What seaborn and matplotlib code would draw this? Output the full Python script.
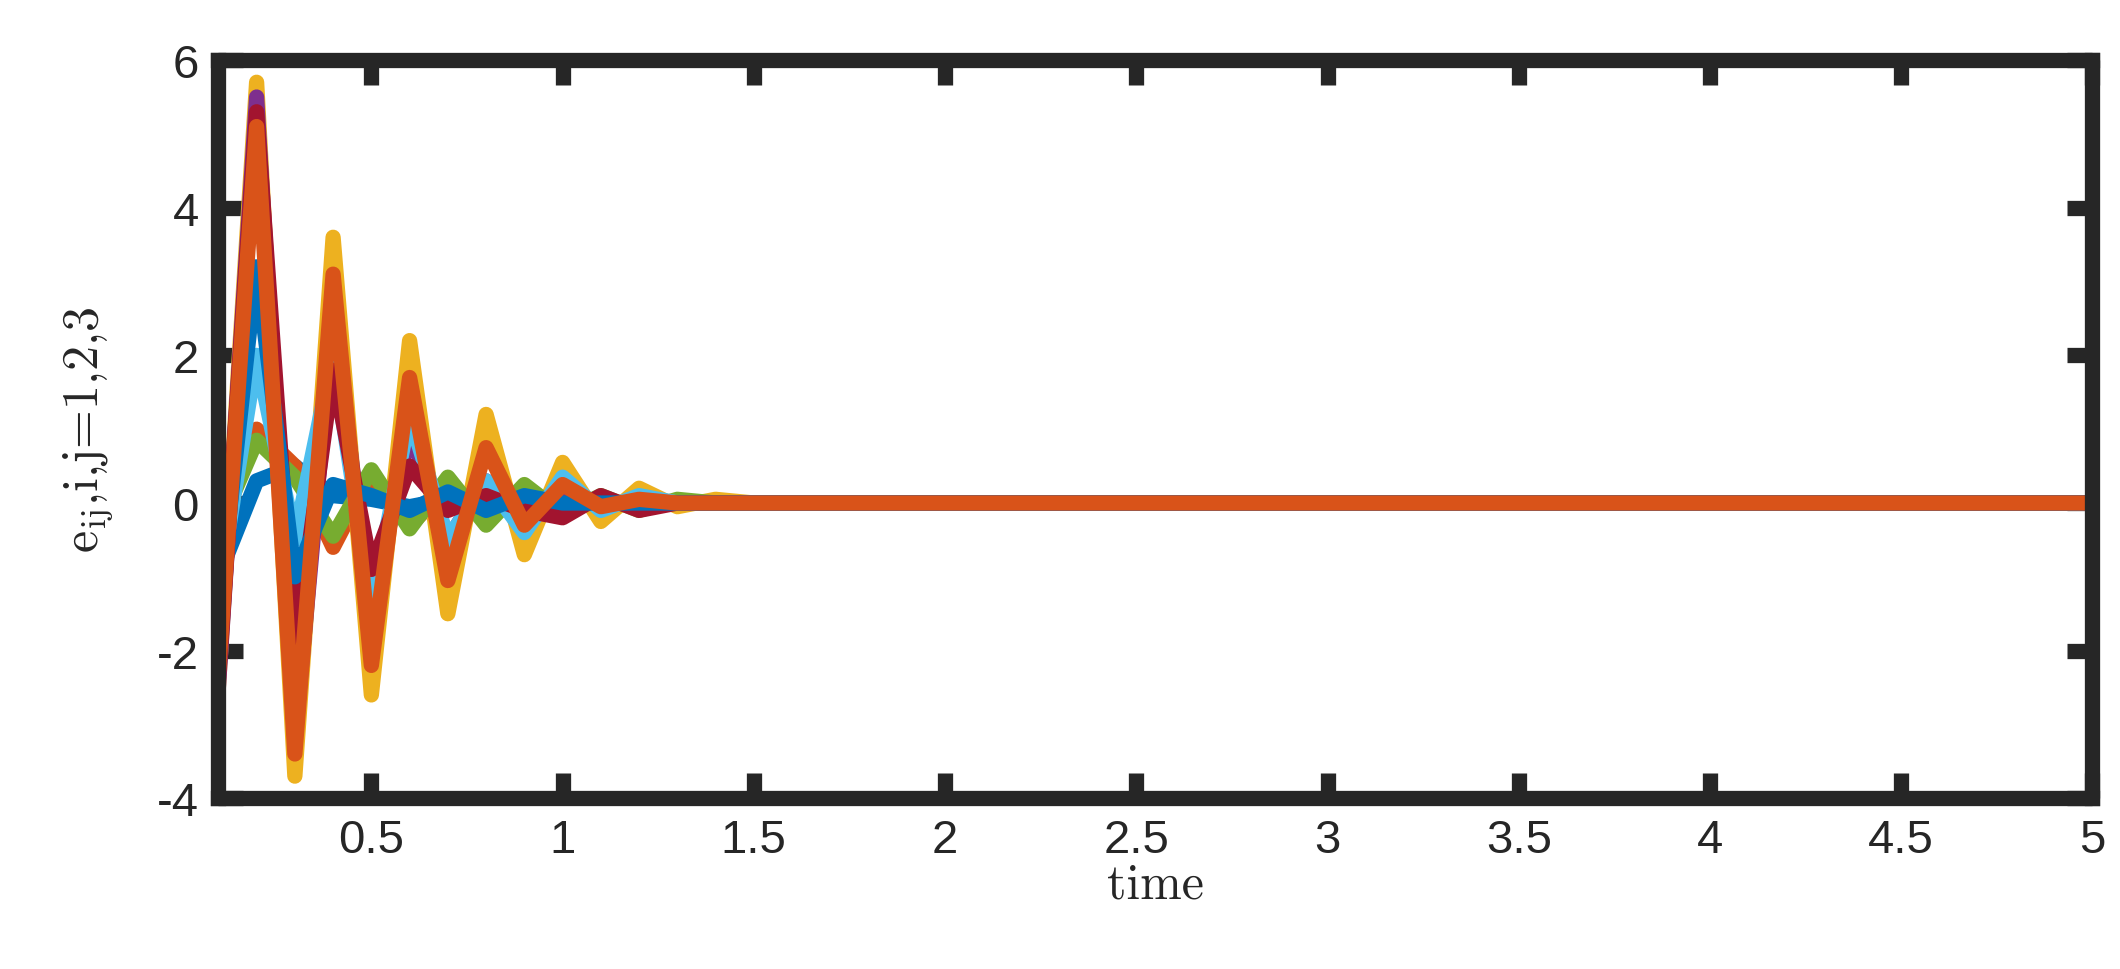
import numpy as np
import pandas as pd
import matplotlib
matplotlib.use("Agg")
import matplotlib.pyplot as plt
import seaborn as sb

# time grid of the simulation
t = np.round(np.arange(0.1, 5.0001, 0.1), 1)

# early values (t = 0.1 ... 1.5), afterwards the errors are ~0
e11 = [-1.0, 0.3, 0.5, 0.1, 0.05, -0.05, 0.05, 0.0, 0.0, 0.0, 0.0, 0.0, 0.0, 0.0, 0.0]
e12 = [-0.4, 1.0, 0.5, -0.6, 0.4, -0.3, 0.2, -0.1, 0.1, 0.0, 0.0, 0.0, 0.0, 0.0, 0.0]
e13 = [-2.5, 5.7, -3.7, 3.6, -2.6, 2.2, -1.5, 1.2, -0.7, 0.55, -0.25, 0.2, -0.05, 0.05, 0.0]
e21 = [-2.5, 5.5, -3.2, 2.5, -1.5, 1.0, -0.5, 0.3, -0.1, 0.05, 0.0, 0.0, 0.0, 0.0, 0.0]
e22 = [-0.35, 0.85, 0.35, -0.45, 0.45, -0.35, 0.35, -0.3, 0.25, -0.15, 0.1, -0.1, 0.05, 0.0, 0.0]
e23 = [-1.2, 2.0, -0.5, 2.0, -1.4, 1.2, -0.5, 0.3, -0.4, 0.35, -0.1, 0.1, 0.0, 0.0, 0.0]
e31 = [-2.4, 5.3, -2.0, 1.8, -0.9, 0.5, -0.1, 0.1, -0.1, -0.2, 0.1, -0.1, 0.0, 0.0, 0.0]
e32 = [-1.5, 3.2, -1.0, 0.25, 0.1, -0.1, 0.15, -0.1, 0.1, 0.0, 0.0, 0.0, 0.0, 0.0, 0.0]
e33 = [-2.3, 5.1, -3.4, 3.1, -2.2, 1.7, -1.05, 0.75, -0.3, 0.25, -0.05, 0.05, 0.0, 0.0, 0.0]

series = [e11, e12, e13, e21, e22, e23, e31, e32, e33]
names = ["e11", "e12", "e13", "e21", "e22", "e23", "e31", "e32", "e33"]
matlab = ['#0072BD', '#D95319', '#EDB120', '#7E2F8E', '#77AC30', '#4DBEEE', '#A2142F']
colors = [matlab[i % 7] for i in range(9)]

rows = []
for n, s in zip(names, series):
    full = list(s) + [0.0] * (len(t) - len(s))
    for ti, v in zip(t, full):
        rows.append({"time": ti, "e": v, "name": n})
df = pd.DataFrame(rows)

sb.set_style("white")
plt.rcParams['font.family'] = ['Liberation Sans', 'DejaVu Sans']
plt.rcParams['mathtext.fontset'] = 'cm'
plt.rcParams['axes.unicode_minus'] = False

fig, ax = plt.subplots(figsize=(21.2, 9.7), dpi=100)
fig.subplots_adjust(left=0.103, right=0.987, top=0.937, bottom=0.176)
sb.lineplot(data=df, x="time", y="e", hue="name", palette=colors, lw=11,
            legend=False, ax=ax, solid_joinstyle='round', solid_capstyle='round')

ax.set_xlim(0.1, 5)
ax.set_ylim(-4, 6)
ax.set_xticks(np.arange(0.5, 5.01, 0.5))
ax.set_xticklabels(['0.5', '1', '1.5', '2', '2.5', '3', '3.5', '4', '4.5', '5'])
ax.set_yticks([-4, -2, 0, 2, 4, 6])
ax.tick_params(direction='in', length=18, width=11, labelsize=34, colors='#262626',
               top=True, right=True, bottom=True, left=True, pad=14)
for sp in ax.spines.values():
    sp.set_linewidth(11)
    sp.set_color('#262626')
ax.set_xlabel("time", fontsize=36, family='cmr10', labelpad=0)
ax.set_ylabel(r"e$_{\mathrm{ij}}$,i,j=1,2,3", fontsize=36, family='cmr10', labelpad=30)

fig.savefig("out.png", dpi=100)
